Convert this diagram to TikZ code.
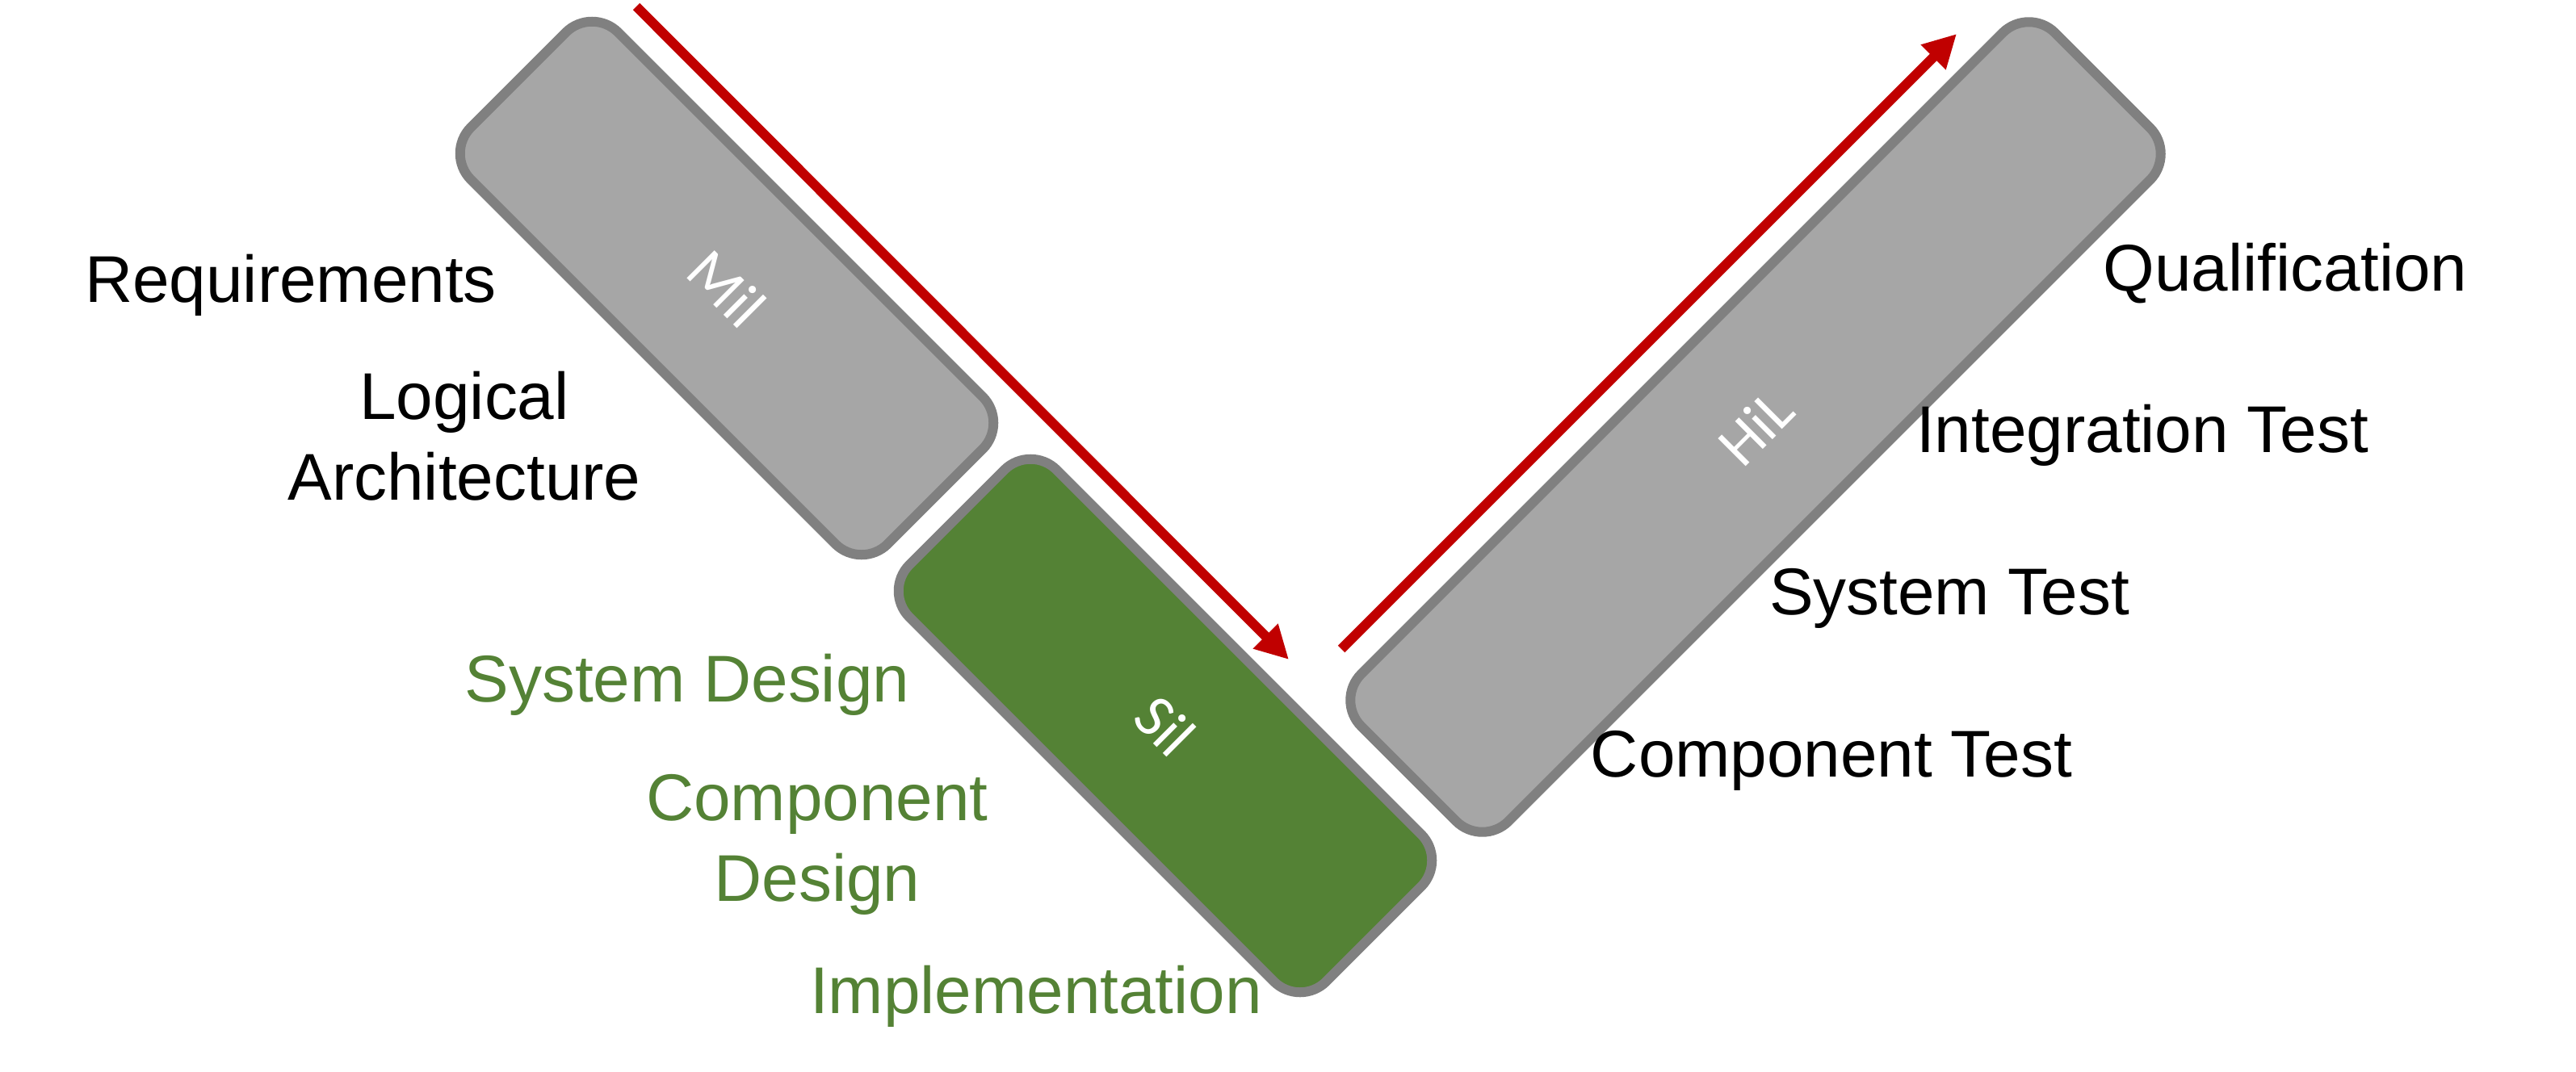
\documentclass[tikz,border=0pt]{standalone}
\usepackage{fontspec}
\setmainfont{Liberation Sans}
\newfontfamily\phasefont{Carlito}
\usepackage{xcolor}
\usetikzlibrary{arrows.meta, positioning}

\definecolor{boxgray}{HTML}{A6A6A6}
\definecolor{edgegray}{HTML}{808080}
\definecolor{silgreen}{HTML}{548235}
\definecolor{flowred}{HTML}{C00000}

\tikzset{
	phase/.style={draw=edgegray, line width=0.12cm, rounded corners=0.46cm, fill=boxgray,
		minimum height=2.58cm, inner sep=0pt, text=white, font=\phasefont\fontsize{21.5}{24}\selectfont},
	stage/.style={inner sep=0pt, align=center, font=\fontsize{23.3}{28.2}\selectfont},
	flow/.style={-{Triangle[length=0.41cm, width=0.41cm]}, flowred, line width=0.12cm},
}

\begin{document}
\begin{tikzpicture}
		\useasboundingbox (0,0) rectangle (31.90,-13.28);
		
		% 1. the three test phases of the V
		\node[phase, minimum width=7.30cm, rotate=-45] (mil) at (9.00,-3.57) {Mil};
		\node[phase, minimum width=7.30cm, rotate=-45, fill=silgreen] (sil) at (14.43,-8.99) {Sil};
		\node[phase, minimum width=12.15cm, rotate=45] (hil) at (21.74,-5.29) {HiL};
		
		% 2. end points of the two flow arrows
		\coordinate (DownStart) at (7.88,-0.08);    % top of the left arm
		\coordinate (DownEnd) at (15.96,-8.17);     % bottom of the V
		\coordinate (UpStart) at (16.61,-8.04);     % bottom of the V
		\coordinate (UpEnd) at (24.23,-0.42);       % top of the right arm
		
		% 3. flow arrows
		\draw[flow] (DownStart) -- (DownEnd);
		\draw[flow] (UpStart) -- (UpEnd);
		
		% 4. design steps on the left arm (base = last line)
		\node[stage, anchor=base] (req) at (3.60,-3.74) {Requirements};
		\node[stage, anchor=base] (logarch) at (5.75,-6.19) {Logical\\Architecture};
		\node[stage, anchor=base, text=silgreen] (sysdes) at (8.51,-8.69) {System Design};
		\node[stage, anchor=base, text=silgreen] (compdes) at (10.12,-11.16) {Component\\Design};
		\node[stage, anchor=base, text=silgreen] (impl) at (12.83,-12.55) {Implementation};
		
		% 5. test steps on the right arm
		\node[stage, anchor=base] (qual) at (28.30,-3.60) {Qualification};
		\node[stage, anchor=base] (integ) at (26.53,-5.60) {Integration Test};
		\node[stage, anchor=base] (systest) at (24.14,-7.61) {System Test};
		\node[stage, anchor=base] (comptest) at (22.68,-9.62) {Component Test};
		
	\end{tikzpicture}
\end{document}
